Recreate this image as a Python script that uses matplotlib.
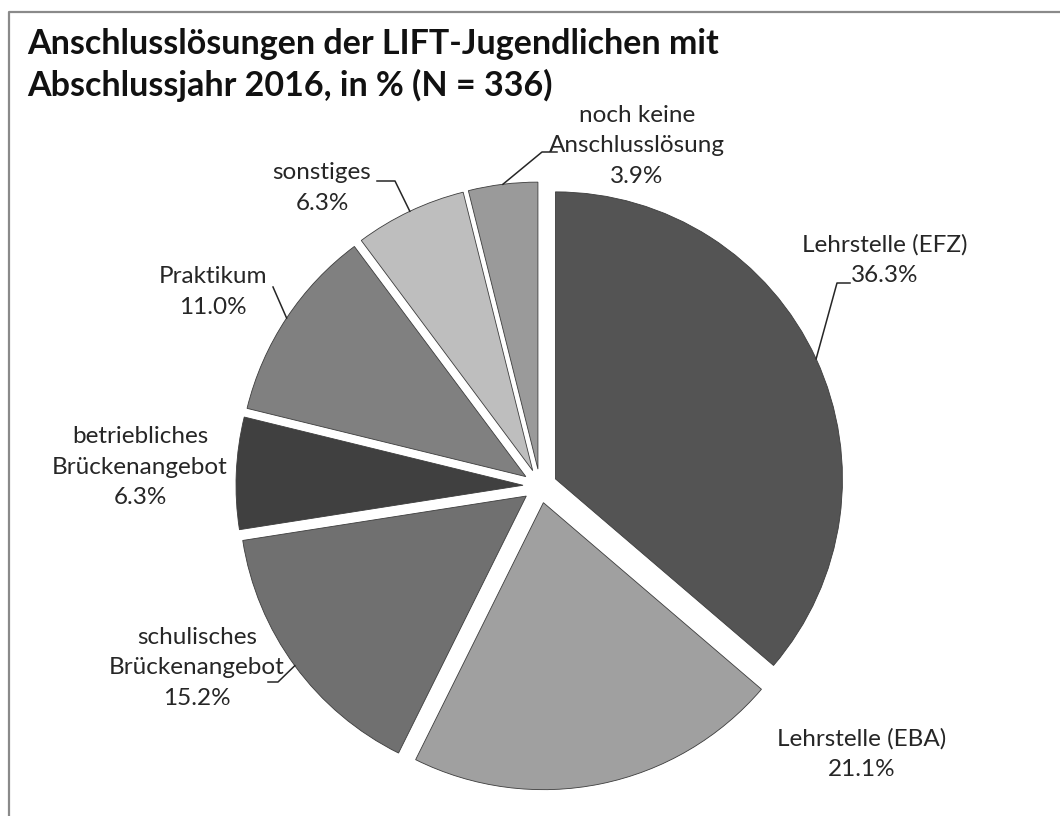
import matplotlib
matplotlib.use('Agg')
import matplotlib.pyplot as plt
import numpy as np

# ── Daten ──
categories = ['Lehrstelle (EFZ)', 'Lehrstelle (EBA)', 'schulisches\nBrückenangebot',
              'betriebliches\nBrückenangebot', 'Praktikum', 'sonstiges',
              'noch keine\nAnschlusslösung']
values = [36.3, 21.1, 15.2, 6.3, 11.0, 6.3, 3.9]
colors = ['#545454', '#a0a0a0', '#707070', '#404040', '#808080', '#bebebe', '#9a9a9a']
title = 'Anschlusslösungen der LIFT-Jugendlichen mit\nAbschlussjahr 2016, in % (N = 336)'

# ── Layout (Pixel, y nach unten) ──
W, H = 1060, 816
CX, CY, R, EXPL = 540, 486, 287, 17
label_pos = [(885, 260), (862, 754), (197, 668), (140, 467), (213, 292), (322, 188), (637, 146)]
# Knickpunkte der Führungslinien (Textende -> Knick), None = keine Linie
leader_pts = [[(850, 283), (837, 283)], None, [(268, 682), (278, 682)], None,
              [(273, 287)], [(377, 181), (395, 181)], [(557, 152), (542, 152)]]

plt.rcParams['font.family'] = ['Lato', 'DejaVu Sans']

fig = plt.figure(figsize=(W / 100, H / 100), dpi=100)
ax = fig.add_axes([0, 0, 1, 1])

def fy(y):
    return H - y

wedges, _ = ax.pie(values, colors=colors, startangle=90, counterclock=False,
                   radius=R, center=(CX, fy(CY)), explode=[EXPL] * len(values),
                   wedgeprops=dict(edgecolor='#3c3c3c', linewidth=0.6))
ax.set_xlim(0, W)
ax.set_ylim(0, H)
ax.set_aspect('equal')
ax.axis('off')

for w, cat, v, (lx, ly), pts in zip(wedges, categories, values, label_pos, leader_pts):
    ax.text(lx, fy(ly), f'{cat}\n{v:.1f}%', ha='center', va='center',
            fontsize=17.5, color='#262626', linespacing=1.55)
    if pts:
        tm = np.deg2rad(0.5 * (w.theta1 + w.theta2))
        ex = w.center[0] + w.r * np.cos(tm)
        ey = w.center[1] + w.r * np.sin(tm)
        xs = [p[0] for p in pts] + [ex]
        ys = [fy(p[1]) for p in pts] + [ey]
        ax.plot(xs, ys, color='#262626', linewidth=1.1)

ax.text(27, fy(65), title, ha='left', va='center', fontsize=24.5, fontweight='bold',
        color='#111111', linespacing=1.32)

# Rahmen (oben und links sichtbar)
ax.plot([9, 9, W], [0, fy(12), fy(12)], color='#8a8a8a', linewidth=1.6, clip_on=False)

fig.savefig('out.png', dpi=100, facecolor='white')
